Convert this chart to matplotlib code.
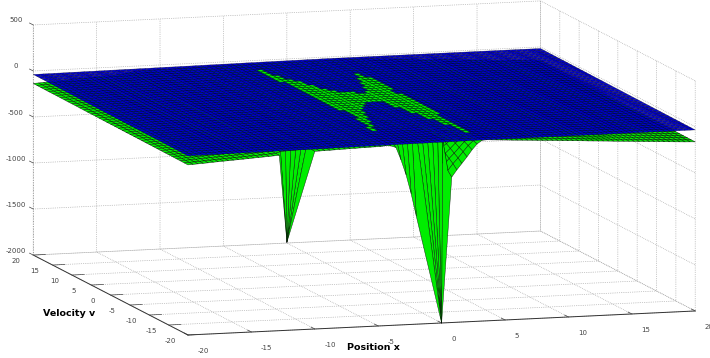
import numpy as np
import matplotlib
matplotlib.use("Agg")
import matplotlib.pyplot as plt
from mpl_toolkits.mplot3d import proj3d
from mpl_toolkits.mplot3d.art3d import Poly3DCollection

plt.rcParams["axes.unicode_minus"] = False

# ---- axes ----
x_nodes = np.linspace(-20, 20, 101)
v_nodes = np.linspace(-20, 20, 41)
x_ticks = [-20, -15, -10, -5, 0, 5, 10, 15, 20]
v_ticks = [-20, -15, -10, -5, 0, 5, 10, 15, 20]
z_ticks = [-2000, -1500, -1000, -500, 0, 500]

# ---- blue surface, read as a height along x plus a rise along v ----
blue_by_x = [-54,-54,-53,-53,-53,-52,-52,-51,-51,-51,-50,-50,-50,-49,-49,-48,-48,-48,-47,-47,
             -47,-46,-46,-46,-45,-45,-44,-44,-44,-43,-43,-43,-42,-42,-41,-41,-41,-40,-40,-40,
             -39,-39,-38,-38,-38,-37,-37,-37,-36,-36,-36,-35,-35,-35,-34,-34,-34,-33] + [-33]*43
rise_by_v = [0,0,1,1,2,2,2,3,3,4,4,4,5,5,6,6,6,7,7,8,8,8,9,9,10,10,10,11,11,12,12,12,13,13,14,14,14,15,15,16,16]

# ---- green surface ----
green_left = [-152,-149,-146,-143,-140,-136,-133,-130,-127,-124,-121,-118,-115,-111,-108,-105,-102,-98,-95]
green_mid = [-69,-67,-66,-64,-62,-61,-59,-58,-56,-55,-53,-52,-51]
green_right = [-37,-40,-43,-46,-50,-53,-56,-59,-62,-66,-69,-72,-75,-78,-82,-85,-88,-91,-94,-98,-101,
               -104,-107,-110,-114,-117,-120,-123,-126,-130,-133,-136,-139,-142,-146,-149,-152,-155,-158,-160,-163]
# first spike: the front nodes meet in one tip
spike_a_front = [-1043,-1043,-1043,-1043,-1043,-1043,-70]
spike_a_back = [-80,-75,-72,-70,-68,-66,-65]
spike_a_tip_x = -12.2
# second spike: rows v = -20 ... -13 for x = -4.4 ... 3.6
valley_flat = [-48]*21
valley_rows = [
 [-45,-50,-70,-208,-373,-581,-824,-2000,-2000,-2000,-2000,-2000,-2000,-420,-345,-277,-209,-135,-73,-35,-33],
 [-42,-42,-42,-42,-42,-42,-42,-42,-42,-42,-42,-42,-42,-370,-300,-240,-175,-110,-60,-33,-33],
 [-41,-41,-41,-41,-41,-41,-41,-41,-41,-41,-41,-41,-41,-330,-265,-210,-150,-90,-50,-33,-33],
 [-40,-40,-40,-40,-40,-40,-40,-40,-40,-40,-40,-40,-40,-290,-230,-180,-125,-75,-42,-33,-33],
 [-40,-40,-40,-40,-40,-40,-40,-40,-40,-40,-40,-40,-40,-245,-190,-150,-100,-60,-36,-33,-33],
 [-40,-40,-40,-40,-40,-40,-40,-40,-40,-40,-40,-40,-40,-200,-150,-115,-80,-48,-33,-33,-33],
 [-40,-40,-40,-40,-40,-40,-40,-40,-40,-40,-40,-40,-40,-150,-110,-85,-60,-40,-33,-33,-33],
 [-40,-40,-40,-40,-40,-40,-40,-40,-40,-40,-40,-40,-40,-100,-75,-60,-45,-35,-33,-33,-33],
]
spike_b_tip_x = 0.0
# the part of the green surface that pokes through the blue one: row v -> x ranges
patch_rows = {
 15:[(-3.6,-3.2)], 14:[(-3.6,-3.2)], 13:[(-3.6,-3.2)], 12:[(-3.6,-2.8)],
 11:[(-3.6,-2.8),(2.8,3.2)], 10:[(-3.6,-2.4),(2.8,3.2)], 9:[(-3.2,-2.0),(2.4,3.6)], 8:[(-3.2,-2.0),(2.4,3.6)],
 7:[(-3.2,-1.6),(2.0,3.6)], 6:[(-3.2,-1.6),(2.0,3.6)], 5:[(-3.2,-1.2),(1.6,3.6)], 4:[(-3.2,-0.8),(1.6,3.6)],
 3:[(-3.2,0.4),(1.2,3.2)], 2:[(-3.2,3.2)], 1:[(-3.2,3.6)], 0:[(-3.2,3.6)], -1:[(-3.2,3.6)],
 -2:[(-3.2,-0.4),(1.2,3.6)], -3:[(-3.2,-0.8),(1.2,3.6)], -4:[(-3.2,-1.2),(1.2,3.6)], -5:[(-2.8,-1.6),(1.6,3.6)],
 -6:[(-2.8,-1.6),(1.6,3.6)], -7:[(-2.8,-2.0),(1.6,3.6)], -8:[(-2.8,-2.0),(2.0,3.6)], -9:[(-3.2,-2.4),(2.0,3.2)],
 -10:[(-3.2,-2.4),(2.0,3.2)], -11:[(-3.2,-2.8),(2.4,3.2)], -12:[(-3.2,-2.8),(2.4,3.2)], -13:[(-3.6,-3.2),(2.4,3.2)],
 -14:[(-3.6,-3.2),(2.8,3.2)], -15:[(2.8,3.2)], -16:[(2.8,3.2)], -17:[(2.8,3.2)],
}
patch_lift = 15

X, V = np.meshgrid(x_nodes, v_nodes)
rise = np.array(rise_by_v, float)[:, None]
blue_z = np.array(blue_by_x, float)[None, :] + rise
green_back = np.array(green_left + spike_a_back + green_mid + valley_flat + green_right, float)
green_z = green_back[None, :] + rise
green_z[0, :] = green_left + spike_a_front + green_mid + valley_rows[0] + green_right
for k, row in enumerate(valley_rows[1:], start=1):
    green_z[k, 39:60] = row
X_green = X.copy()
X_green[0, 19:25] = spike_a_tip_x
X_green[0, 46:52] = spike_b_tip_x

patch_cells = []
for v_row, ranges in patch_rows.items():
    r = v_row + 20
    for lo, hi in ranges:
        c0 = int(round((lo + 20) / 0.4))
        c1 = int(round((hi + 20) / 0.4))
        green_z[r:r + 2, c0:c1 + 1] = blue_z[r:r + 2, c0:c1 + 1] + patch_lift
for v_row, ranges in patch_rows.items():
    r = v_row + 20
    for lo, hi in ranges:
        c0 = int(round((lo + 20) / 0.4))
        c1 = int(round((hi + 20) / 0.4))
        for c in range(c0, c1):
            patch_cells.append([(X[a, b], V[a, b], green_z[a, b])
                                for a, b in ((r, c), (r, c + 1), (r + 1, c + 1), (r + 1, c))])

# ---- drawing ----
W_PX, H_PX = 710, 358
fig = plt.figure(figsize=(W_PX / 100, H_PX / 100), dpi=100, facecolor="white")
ax = fig.add_subplot(projection="3d", computed_zorder=False, proj_type="ortho")
ax.view_init(elev=9.0, azim=-106.85, roll=0)
ax.set_box_aspect((530, 534, 233))
ax.set_xlim(-20, 20, view_margin=0)
ax.set_ylim(-20, 20, view_margin=0)
ax.set_zlim(-2000, 500, view_margin=0)
ax.patch.set_alpha(0)

GREEN = (0.0, 0.93, 0.0)
BLUE = (0.0, 0.0, 0.80)
EDGE = (0, 0, 0, 0.55)
ax.plot_surface(X_green, V, green_z, rstride=1, cstride=1, color=GREEN, edgecolor=(0, 0, 0, 0.8), linewidth=0.35, shade=False, zorder=1)
ax.plot_surface(X, V, blue_z, rstride=1, cstride=1, color=BLUE, edgecolor=EDGE, linewidth=0.3, shade=False, zorder=2)
ax.add_collection3d(Poly3DCollection(patch_cells, facecolor=GREEN, edgecolor=(0, 0, 0, 0.7), linewidth=0.3, zorder=3))

ax.set_xticks(x_ticks)
ax.set_yticks(v_ticks)
ax.set_zticks(z_ticks)
ax.tick_params(labelsize=5, colors="#444444")
ax.tick_params(axis="x", pad=10)
ax.tick_params(axis="y", pad=2)
ax.tick_params(axis="z", pad=-0.5)
for axis in (ax.xaxis, ax.yaxis, ax.zaxis):
    axis.pane.set_visible(False)
    axis._axinfo["grid"].update(color="#9a9a9a", linewidth=0.5, linestyle=":")
    axis._axinfo["tick"].update(inward_factor=0.0, outward_factor=0.3, linewidth={True: 0.5, False: 0.5})
    axis.line.set_linewidth(0.7)
    axis.line.set_color("#333333")
ax.zaxis.line.set_color("#9a9a9a")
ax.zaxis.line.set_linestyle(":")
ax.zaxis._get_tickdir = lambda position: 1   # z ticks run along v, as in the picture
plt.setp(ax.get_xticklabels(), ha="left", va="bottom")
plt.setp(ax.get_yticklabels(), va="bottom")
plt.setp(ax.get_zticklabels(), ha="center", va="bottom")

# place the axes so that the front floor corner and the floor width land as in the picture
M = ax.get_proj()
ax_, ay_, _ = proj3d.proj_transform(-20, -20, -2000, M)
lx_, _, _ = proj3d.proj_transform(-20, 20, -2000, M)
rx_, _, _ = proj3d.proj_transform(20, -20, -2000, M)
scale = (695 - 33) / (rx_ - lx_)
x0, x1 = ax.viewLim.intervalx
y0, y1 = ax.viewLim.intervaly
side = scale * (x1 - x0)
left = 188 - (ax_ - x0) * scale
bottom = (H_PX - 335) - (ay_ - y0) * scale
ax.set_position([left / W_PX, bottom / H_PX, side / W_PX, side / H_PX])

fig.text(69 / W_PX, 1 - 313 / H_PX, "Velocity v", fontsize=6.8, fontweight="bold", ha="center", va="center")
fig.text(373 / W_PX, 1 - 347 / H_PX, "Position x", fontsize=6.8, fontweight="bold", ha="center", va="center")

fig.savefig("out.png", dpi=100)
